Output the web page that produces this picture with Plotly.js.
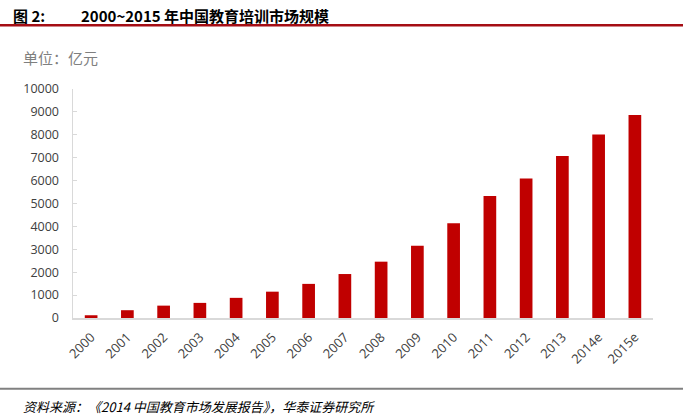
<!DOCTYPE html>
<html>
<head>
<meta charset="utf-8">
<script src="https://cdn.plot.ly/plotly-3.0.1.min.js"></script>
<style>html,body{margin:0;padding:0;background:#fff;}#chart{width:683px;height:417px;}</style>
</head>
<body>
<div id="chart"></div>
<script>
const years = ["2000","2001","2002","2003","2004","2005","2006","2007","2008","2009","2010","2011","2012","2013","2014e","2015e"];
const marketSize = [120, 340, 540, 660, 880, 1150, 1490, 1920, 2460, 3150, 4140, 5330, 6090, 7070, 8010, 8860];
const yTicks = [0,1000,2000,3000,4000,5000,6000,7000,8000,9000,10000];

const L = 73, R = 653, T = 88.5, B = 318.5;
const W = 683, H = 417;
const px = x => (x - L) / (R - L);
const py = y => (B - y) / (B - T);

const trace = {
  type: 'bar',
  x: years,
  y: marketSize,
  marker: {color: '#c00000'},
  width: 0.35,
  hoverinfo: 'x+y'
};

const cjk = '"Noto Sans CJK SC", "Noto Sans", sans-serif';
const layout = {
  width: W, height: H,
  margin: {l: L, r: W - R, t: T, b: H - B},
  paper_bgcolor: '#fff', plot_bgcolor: '#fff',
  showlegend: false,
  xaxis: {
    type: 'category',
    showline: true, linecolor: '#d9d9d9', linewidth: 1.5,
    showgrid: false, zeroline: false,
    ticks: '', tickangle: -45,
    ticklabelstandoff: 5,
    tickfont: {family: '"Open Sans", "Liberation Sans", sans-serif', size: 13, color: '#404040'}
  },
  yaxis: {
    range: [0, 10000],
    tickvals: yTicks,
    ticktext: yTicks.map(String),
    showline: true, linecolor: '#d9d9d9', linewidth: 1.5,
    showgrid: false, zeroline: false,
    ticks: 'inside', ticklen: 4, tickcolor: '#d9d9d9', tickwidth: 1,
    ticklabelstandoff: 10,
    tickfont: {family: '"Open Sans", "Liberation Sans", sans-serif', size: 12.5, color: '#404040'}
  },
  shapes: [
    {type: 'line', xref: 'paper', yref: 'paper', x0: px(0), x1: px(683), y0: py(24.5), y1: py(24.5),
     line: {color: '#a50d14', width: 2.5}},
    {type: 'line', xref: 'paper', yref: 'paper', x0: px(0), x1: px(683), y0: py(389.5), y1: py(389.5),
     line: {color: '#808080', width: 2}}
  ],
  annotations: [
    {xref: 'paper', yref: 'paper', x: px(11), y: py(15), xanchor: 'left', yanchor: 'middle', showarrow: false,
     text: '<b>图 2:</b>', font: {family: cjk, size: 15, color: '#000'}},
    {xref: 'paper', yref: 'paper', x: px(79), y: py(15), xanchor: 'left', yanchor: 'middle', showarrow: false,
     text: '<b>2000~2015 年中国教育培训市场规模</b>', font: {family: cjk, size: 15, color: '#000'}},
    {xref: 'paper', yref: 'paper', x: px(21), y: py(57), xanchor: 'left', yanchor: 'middle', showarrow: false,
     text: '单位：亿元', font: {family: cjk, size: 15, color: '#7f7f7f'}},
    {xref: 'paper', yref: 'paper', x: px(21), y: py(407), xanchor: 'left', yanchor: 'middle', showarrow: false,
     text: '<i>资料来源：《2014 中国教育市场发展报告》，华泰证券研究所</i>', font: {family: cjk, size: 13, color: '#000'}}
  ]
};

Plotly.newPlot('chart', [trace], layout, {displayModeBar: false, staticPlot: true});
</script>
</body>
</html>
